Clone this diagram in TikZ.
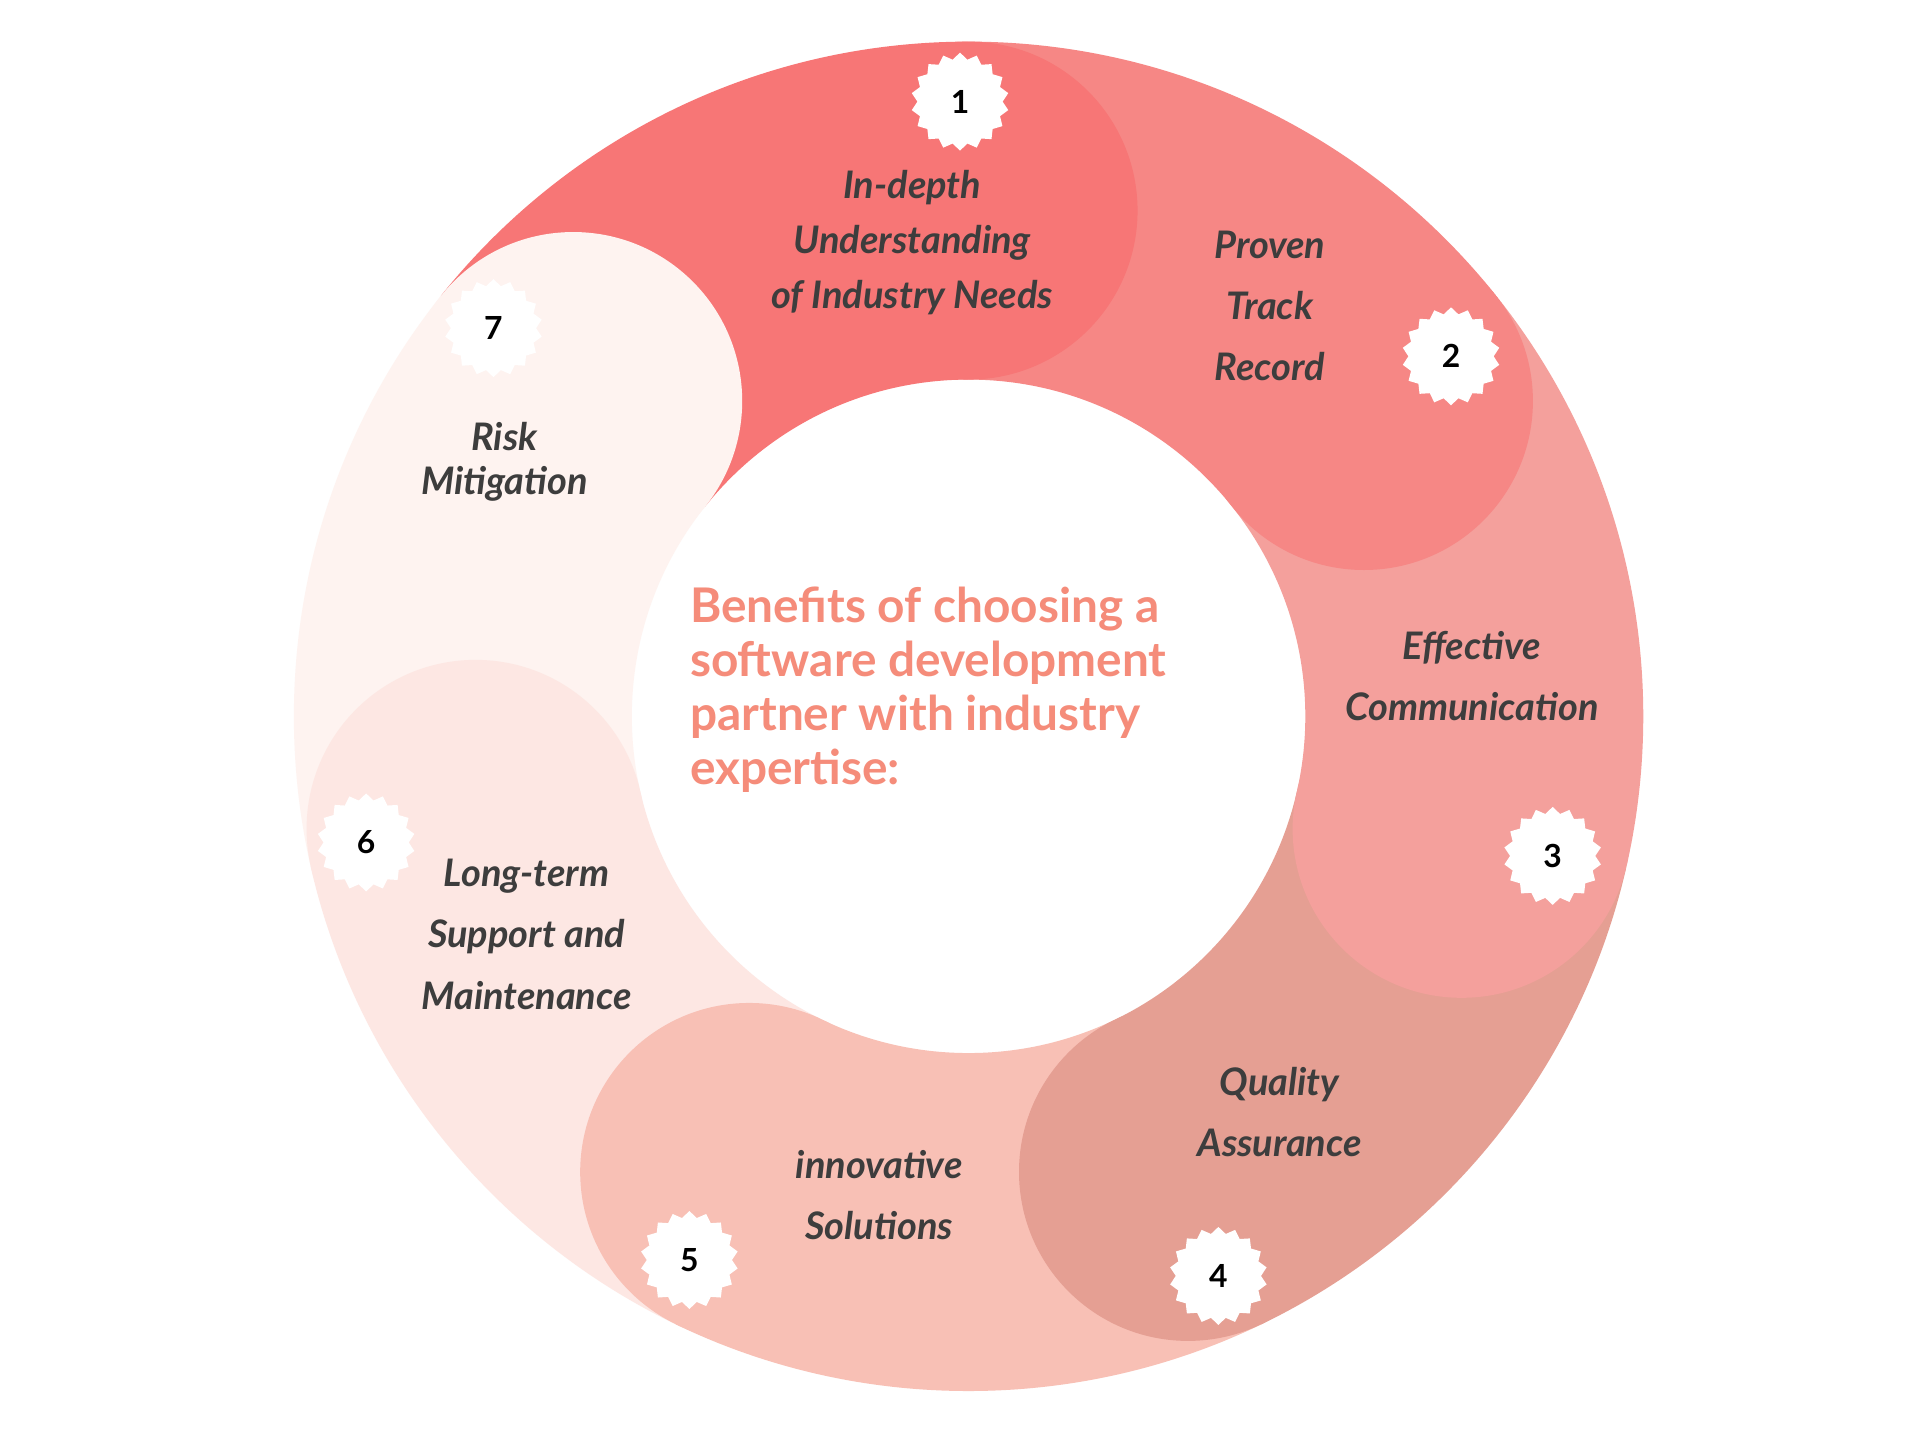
\documentclass[tikz,border=0pt]{standalone}
\usepackage{fontspec}
\setmainfont{Lato}
\usetikzlibrary{shapes.geometric}
\definecolor{cA}{HTML}{F77676}
\definecolor{cB}{HTML}{F68785}
\definecolor{cC}{HTML}{F4A09C}
\definecolor{cD}{HTML}{E59F93}
\definecolor{cE}{HTML}{F8C0B5}
\definecolor{cF}{HTML}{FDE7E3}
\definecolor{cG}{HTML}{FEF3F0}
\definecolor{txt}{HTML}{3D3D3D}
\definecolor{ttl}{HTML}{F58C7A}
\tikzset{
 lbl/.style={text=txt,font=\fontsize{31}{50}\selectfont\bfseries\itshape,align=center},
 badge/.style={star,star points=18,star point ratio=1.15,minimum size=80pt,inner sep=0pt,fill=white,font=\fontsize{26}{26}\selectfont\bfseries,text=black}
}
\begin{document}
\begin{tikzpicture}[x=1pt,y=1pt]
\useasboundingbox (0,0) rectangle (1568,1176);
\fill[white] (0,0) rectangle (1568,1176);
\begin{scope}[shift={(791,591)}]
\begin{scope}[even odd rule]
\clip (0,0) circle(551) (0,0) circle(275);
\foreach \k/\c in {1/cA,2/cB,3/cC,4/cD,5/cE,6/cF,7/cG}{
  \pgfmathsetmacro\aa{90-(\k-2)*51.4286}
  \pgfmathsetmacro\bb{90-(\k-1)*51.4286}
  \fill[\c] (0,0) -- (\aa:700) arc[start angle=\aa,end angle=\bb,radius=700] -- cycle;
}
\foreach \k/\c in {1/cA,2/cB,3/cC,4/cD,5/cE,6/cF,7/cG}{
  \pgfmathsetmacro\bb{90-(\k-1)*51.4286}
  \fill[\c] (\bb:413) circle(138);
}
\end{scope}
\end{scope}
\node[badge] (b1) at (784,1093) {1};
\node[badge] (b2) at (1185,885) {2};
\node[badge] (b3) at (1268,477) {3};
\node[badge] (b4) at (995,134) {4};
\node[badge] (b5) at (563,147) {5};
\node[badge] (b6) at (299,488) {6};
\node[badge] (b7) at (403,908) {7};
\node[lbl] (l1) at (745,978) {In-depth\\[-5pt]Understanding\\[-5pt]of Industry Needs};
\node[lbl] (l2) at (1037,926) {Proven\\Track\\Record};
\node[lbl] (l3) at (1202,624) {Effective\\Communication};
\node[lbl] (l4) at (1045,268) {Quality\\Assurance};
\node[lbl] (l5) at (718,200) {innovative\\Solutions};
\node[lbl] (l6) at (430,413) {Long-term\\Support and\\Maintenance};
\node[lbl] (l7) at (412,799) {Risk\\[-14pt]Mitigation};
\node[anchor=north west,text=ttl,font=\fontsize{39}{44}\selectfont\bfseries,align=left] (t) at (560,700)
 {Benefits of choosing a\\software development\\partner with industry\\expertise:};
\end{tikzpicture}
\end{document}
